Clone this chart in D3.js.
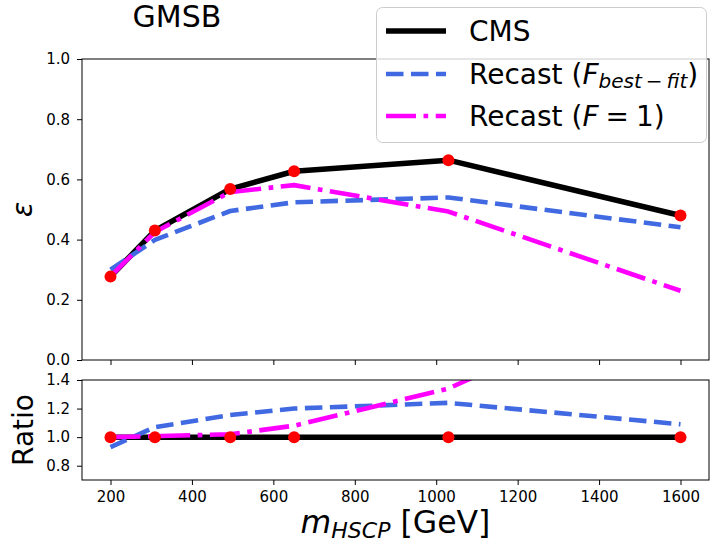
<!DOCTYPE html>
<html>
<head>
<meta charset="utf-8">
<script src="https://cdn.jsdelivr.net/npm/d3@7/dist/d3.min.js"></script>
<style>
  html, body { margin: 0; padding: 0; background: #fff; }
  svg text { font-family: "DejaVu Sans", sans-serif; }
</style>
</head>
<body>
<svg id="chart" width="712" height="543"></svg>
<script>
// ---- data ----
const masses      = [200, 309, 494, 651, 1030, 1600];
const cms         = [0.277, 0.430, 0.568, 0.627, 0.664, 0.480];
const recastBest  = [0.300, 0.399, 0.495, 0.524, 0.540, 0.441];
const recastF1    = [0.278, 0.425, 0.558, 0.581, 0.493, 0.230];
const ratioCms    = [1.00, 1.00, 1.00, 1.00, 1.00, 1.00];
const ratioBest   = [0.93, 1.07, 1.155, 1.20, 1.24, 1.09];
const ratioF1     = [1.00, 1.007, 1.02, 1.08, 1.34, 2.08];
const xTicks      = [200, 400, 600, 800, 1000, 1200, 1400, 1600];
const yTicksTop   = [0.0, 0.2, 0.4, 0.6, 0.8, 1.0];
const yTicksRatio = [0.8, 1.0, 1.2, 1.4];

// ---- layout ----
const L = 82, R = 709;
const topY0 = 59, topY1 = 360;
const botY0 = 380, botY1 = 480;

const svg = d3.select("#chart");

const x = d3.scaleLinear().domain([130, 1670]).range([L, R]);
const yTop = d3.scaleLinear().domain([0, 1]).range([topY1, topY0]);
const yBot = d3.scaleLinear().domain([0.7, 1.4]).range([botY1, botY0]);

const defs = svg.append("defs");
defs.append("clipPath").attr("id", "clipTop")
  .append("rect").attr("x", L).attr("y", topY0).attr("width", R - L).attr("height", topY1 - topY0);
defs.append("clipPath").attr("id", "clipBot")
  .append("rect").attr("x", L).attr("y", botY0).attr("width", R - L).attr("height", botY1 - botY0);

function styleAxis(g) {
  g.select(".domain").remove();
  g.selectAll(".tick line").attr("stroke", "#000").attr("stroke-width", 1);
  g.selectAll(".tick text").attr("fill", "#000")
    .style("font-family", "'DejaVu Sans', sans-serif").style("font-size", "15px");
}

// top axes ticks
svg.append("g").attr("transform", `translate(0,${topY1})`)
  .call(d3.axisBottom(x).tickValues(xTicks).tickSize(5).tickFormat(""))
  .call(styleAxis);
svg.append("g").attr("transform", `translate(${L},0)`)
  .call(d3.axisLeft(yTop).tickValues(yTicksTop).tickSize(5).tickPadding(7).tickFormat(d3.format(".1f")))
  .call(styleAxis);

// bottom axes ticks
svg.append("g").attr("transform", `translate(0,${botY1})`)
  .call(d3.axisBottom(x).tickValues(xTicks).tickSize(5).tickPadding(6).tickFormat(d3.format("d")))
  .call(styleAxis);
svg.append("g").attr("transform", `translate(${L},0)`)
  .call(d3.axisLeft(yBot).tickValues(yTicksRatio).tickSize(5).tickPadding(7).tickFormat(d3.format(".1f")))
  .call(styleAxis);

// lines
function drawPanel(yScale, clipId, sCms, sBest, sF1) {
  const g = svg.append("g").attr("clip-path", `url(#${clipId})`);
  const line = d3.line().x((d, i) => x(masses[i])).y(d => yScale(d));
  g.append("path").datum(sCms).attr("d", line)
    .attr("fill", "none").attr("stroke", "#000").attr("stroke-width", 5.5)
    .attr("stroke-linejoin", "round");
  g.append("path").datum(sBest).attr("d", line)
    .attr("fill", "none").attr("stroke", "#4169E1").attr("stroke-width", 4.6)
    .attr("stroke-dasharray", "17.5,7.5").attr("stroke-linejoin", "round");
  g.append("path").datum(sF1).attr("d", line)
    .attr("fill", "none").attr("stroke", "#FF00FF").attr("stroke-width", 4.6)
    .attr("stroke-dasharray", "30,7.5,4.7,7.5").attr("stroke-linejoin", "round");
  svg.append("g").selectAll("circle").data(sCms).enter().append("circle")
    .attr("cx", (d, i) => x(masses[i])).attr("cy", d => yScale(d))
    .attr("r", 6).attr("fill", "#FF0000");
}
drawPanel(yTop, "clipTop", cms, recastBest, recastF1);
drawPanel(yBot, "clipBot", ratioCms, ratioBest, ratioF1);

// frames
svg.append("rect").attr("x", L).attr("y", topY0).attr("width", R - L).attr("height", topY1 - topY0)
  .attr("fill", "none").attr("stroke", "#000").attr("stroke-width", 1);
svg.append("rect").attr("x", L).attr("y", botY0).attr("width", R - L).attr("height", botY1 - botY0)
  .attr("fill", "none").attr("stroke", "#000").attr("stroke-width", 1);

// axis labels
svg.append("text").attr("transform", `translate(32,${(topY0 + topY1) / 2}) rotate(-90)`)
  .attr("text-anchor", "middle").style("font-size", "28px").style("font-style", "italic")
  .text("ε");
svg.append("text").attr("transform", `translate(33,${(botY0 + botY1) / 2}) rotate(-90)`)
  .attr("text-anchor", "middle").style("font-size", "28px")
  .text("Ratio");

const xl = svg.append("text").attr("x", (L + R) / 2).attr("y", 533)
  .attr("text-anchor", "middle").style("font-size", "31.5px");
xl.append("tspan").style("font-style", "italic").text("m");
xl.append("tspan").style("font-style", "italic").style("font-size", "22px").attr("dy", 5).text("HSCP");
xl.append("tspan").attr("dy", -5).text("\u00a0[GeV]");

// title
svg.append("text").attr("x", 177).attr("y", 27).attr("text-anchor", "middle")
  .style("font-size", "30px").text("GMSB");

// legend
const lg = svg.append("g");
lg.append("rect").attr("x", 376.5).attr("y", 7.5).attr("width", 330).attr("height", 135)
  .attr("rx", 6).attr("fill", "#fff").attr("fill-opacity", 0.8)
  .attr("stroke", "#ccc").attr("stroke-width", 1);
const legendRows = [
  { y: 31, color: "#000", width: 5.5, dash: null },
  { y: 74, color: "#4169E1", width: 4.6, dash: "17.5,7.5" },
  { y: 116, color: "#FF00FF", width: 4.6, dash: "30,7.5,4.7,7.5" }
];
legendRows.forEach(r => {
  const l = lg.append("line").attr("x1", 386).attr("x2", 446).attr("y1", r.y).attr("y2", r.y)
    .attr("stroke", r.color).attr("stroke-width", r.width);
  if (r.dash) l.attr("stroke-dasharray", r.dash);
});
lg.append("text").attr("x", 469).attr("y", 41).style("font-size", "28px").text("CMS");
const t2 = lg.append("text").attr("x", 469).attr("y", 83.5).style("font-size", "28px");
t2.append("tspan").text("Recast (");
t2.append("tspan").style("font-style", "italic").text("F");
t2.append("tspan").style("font-style", "italic").style("font-size", "20px").attr("dy", 4.5)
  .text("best\u2009\u2212\u2009fit");
t2.append("tspan").attr("dy", -4.5).text(")");
const t3 = lg.append("text").attr("x", 469).attr("y", 126).style("font-size", "28px");
t3.append("tspan").text("Recast (");
t3.append("tspan").style("font-style", "italic").text("F");
t3.append("tspan").text("\u2005=\u20051)");
</script>
</body>
</html>
